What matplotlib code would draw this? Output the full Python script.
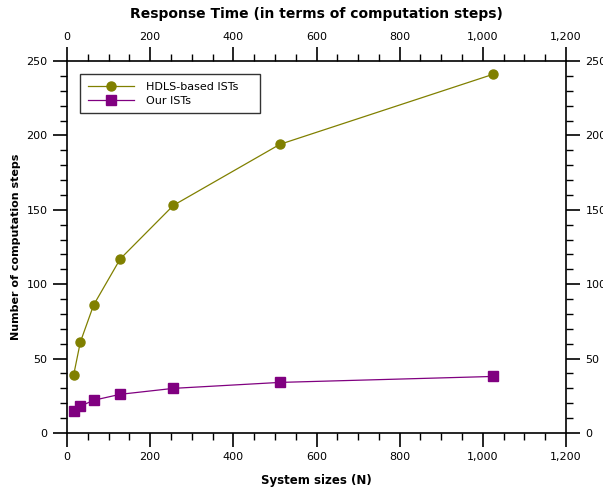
import numpy as np
import matplotlib.pyplot as plt
from matplotlib.ticker import MultipleLocator, FuncFormatter

sizes = [16, 32, 64, 128, 256, 512, 1024]
hdls = [39, 61, 86, 117, 153, 194, 241]
ours = [15, 18, 22, 26, 30, 34, 38]

fmt = FuncFormatter(lambda v, p: '{:,.0f}'.format(v))

fig = plt.figure(figsize=(6.03, 4.9), dpi=100)
ax = fig.add_axes([67/603, 1-433/490, (566-67)/603, (433-61)/490])

ax.plot(sizes, hdls, color='#808000', marker='o', markersize=6.5, linewidth=0.9, label='HDLS-based ISTs')
ax.plot(sizes, ours, color='#800080', marker='s', markersize=6.5, linewidth=0.9, label='Our ISTs')

ax.set_xlim(0, 1200)
ax.set_ylim(0, 250)
ax.xaxis.set_major_locator(MultipleLocator(200))
ax.xaxis.set_minor_locator(MultipleLocator(50))
ax.yaxis.set_major_locator(MultipleLocator(50))
ax.yaxis.set_minor_locator(MultipleLocator(10))
ax.xaxis.set_major_formatter(fmt)

ax.tick_params(which='major', direction='out', length=10, width=1.2, labelsize=8, colors='black', pad=4)
ax.tick_params(which='minor', direction='out', length=5, width=1)
ax.tick_params(top=True, right=True, labeltop=True, labelright=True, which='both')

for s in ax.spines.values():
    s.set_linewidth(1.2)

ax.set_xlabel('System sizes (N)', fontsize=8.5, fontweight='bold', labelpad=8)
ax.set_ylabel('Number of computation steps', fontsize=8, fontweight='bold')
ax.set_title('Response Time (in terms of computation steps)', fontsize=10, fontweight='bold', pad=10)

leg = ax.legend(['HDLS-based ISTs    ', 'Our ISTs'], loc='upper left', bbox_to_anchor=(0.015, 0.98),
                fontsize=8, frameon=True, fancybox=False, edgecolor='black',
                handlelength=4.2, handletextpad=1.0, borderpad=0.7, labelspacing=0.35)
leg.get_frame().set_linewidth(1)

fig.savefig('out.png', dpi=100)
